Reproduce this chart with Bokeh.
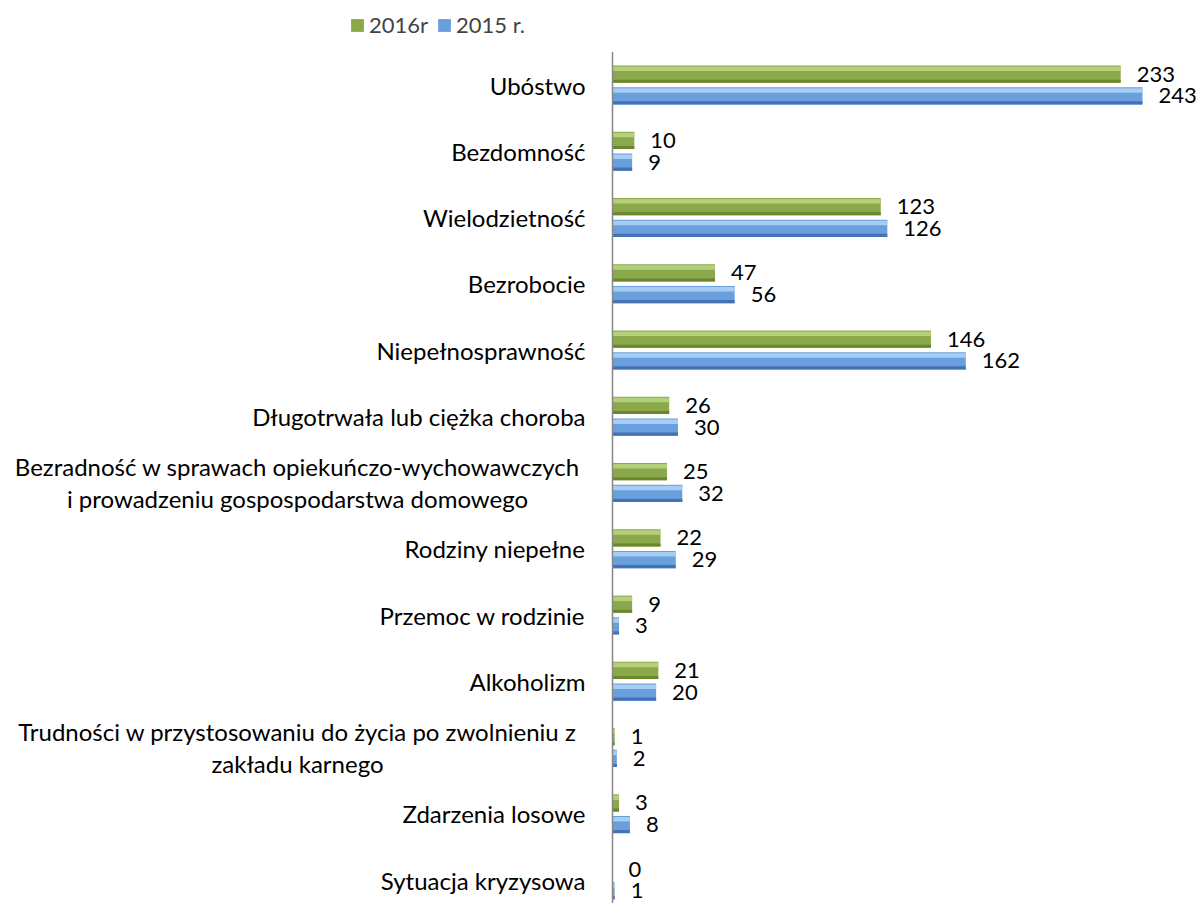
from bokeh.plotting import figure
from bokeh.models import ColumnDataSource, Range1d, Legend, LegendItem
from bokeh.core.properties import value
from bokeh.embed import file_html
from bokeh.resources import INLINE

categories = [
    "Ubóstwo",
    "Bezdomność",
    "Wielodzietność",
    "Bezrobocie",
    "Niepełnosprawność",
    "Długotrwała lub ciężka choroba",
    "Bezradność w sprawach opiekuńczo-wychowawczych\ni prowadzeniu gospospodarstwa domowego",
    "Rodziny niepełne",
    "Przemoc w rodzinie",
    "Alkoholizm",
    "Trudności w przystosowaniu do życia po zwolnieniu z\nzakładu karnego",
    "Zdarzenia losowe",
    "Sytuacja kryzysowa",
]
v2016 = [233, 10, 123, 47, 146, 26, 25, 22, 9, 21, 1, 3, 0]
v2015 = [243, 9, 126, 56, 162, 30, 32, 29, 3, 20, 2, 8, 1]
series_names = ["2016r", "2015 r."]

FONT = "Lato"
W, H = 1199, 903
PX_PER_UNIT = 2.181
ZERO_PX = 612
BAND_PX = 66.25
FIRST_CENTER_PX = 84.5  # from top of frame

x_start = -ZERO_PX / PX_PER_UNIT
x_end = (W - ZERO_PX) / PX_PER_UNIT
y_top = -FIRST_CENTER_PX / BAND_PX
y_bottom = (H - FIRST_CENTER_PX) / BAND_PX

p = figure(width=W, height=H, output_backend="svg", toolbar_location=None,
           x_range=Range1d(x_start, x_end), y_range=Range1d(y_bottom, y_top),
           x_axis_location=None, y_axis_location=None, min_border=0)
p.grid.visible = False
p.outline_line_color = None
p.background_fill_color = "white"

idx = list(range(len(categories)))
OFF = 0.163
BH = 0.26

styles = [
    dict(base="#8BA94A", light="#B3D07A", dark="#6A872D"),
    dict(base="#6A9FDE", light="#A6CDF4", dark="#4472B5"),
]
series = [v2016, v2015]
offsets = [-OFF, OFF]
main_renderers = []
for vals, off, st in zip(series, offsets, styles):
    ys = [i + off for i in idx]
    src = ColumnDataSource(dict(y=ys, v=vals, lab=[str(v) for v in vals]))
    r = p.hbar(y="y", right="v", left=0, height=BH, source=src,
               fill_color=st["base"], line_color=None)
    main_renderers.append(r)
    # highlight (upper part)
    src_h = ColumnDataSource(dict(y=[y - BH / 2 + BH * 0.19 for y in ys], v=vals))
    p.hbar(y="y", right="v", left=0, height=BH * 0.26, source=src_h,
           fill_color=st["light"], line_color=None)
    # shade (lower part)
    src_d = ColumnDataSource(dict(y=[y + BH / 2 - BH * 0.09 for y in ys], v=vals))
    p.hbar(y="y", right="v", left=0, height=BH * 0.18, source=src_d,
           fill_color=st["dark"], line_color=None)
    p.text(x="v", y="y", text="lab", source=src, x_offset=16, y_offset=0,
           text_align="left", text_baseline="middle",
           text_font=value(FONT), text_font_size="22px", text_color="#000000",
           text_line_height=1.0)

# axis line
p.segment(x0=[0], y0=[-0.5], x1=[0], y1=[len(categories) - 0.5],
          line_color="#878787", line_width=1.5)

# category labels
aligns = ["center" if "\n" in c else "right" for c in categories]
xoffs = [-315 if "\n" in c else -27 for c in categories]
csrc = ColumnDataSource(dict(x=[0] * len(categories), y=idx, t=categories,
                             a=aligns, xo=xoffs))
p.text(x="x", y="y", text="t", source=csrc, x_offset="xo", text_align="a",
       text_baseline="middle", text_font=value(FONT), text_font_size="24px",
       text_color="#000000", text_line_height=1.1)

legend = Legend(items=[LegendItem(label=series_names[0], renderers=[main_renderers[0]]),
                       LegendItem(label=series_names[1], renderers=[main_renderers[1]])],
                orientation="horizontal", location=(349, 865),
                glyph_width=16, glyph_height=16, label_standoff=4, spacing=8,
                padding=0, margin=0, background_fill_alpha=0, border_line_alpha=0,
                label_text_font=FONT, label_text_font_size="22px", label_height=22)
p.add_layout(legend)

open("out.html", "w").write(file_html(p, INLINE))
